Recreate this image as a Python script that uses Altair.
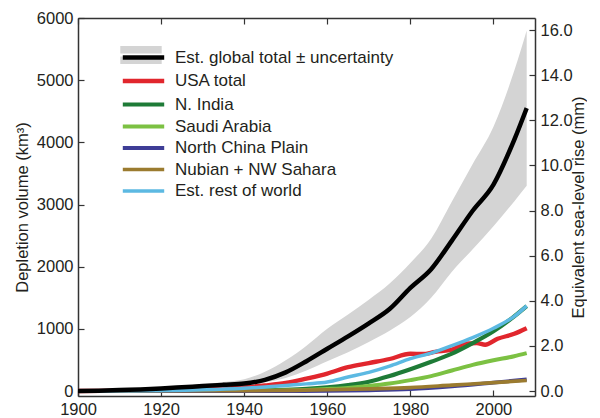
import altair as alt
import pandas as pd

FONT = "Liberation Sans"

series_names = [
    "Est. global total ± uncertainty",
    "USA total",
    "N. India",
    "Saudi Arabia",
    "North China Plain",
    "Nubian + NW Sahara",
    "Est. rest of world",
]
series_colors = ["#000000", "#e1262d", "#1e7b37", "#7cc143", "#3e3d96", "#9b7b2f", "#5cb9e2"]
series_widths = [4.5, 3.5, 3.5, 3.5, 3.0, 3.0, 3.5]

# Estimated global total and uncertainty band (km3)
global_years = [1900, 1905, 1910, 1915, 1920, 1925, 1930, 1935, 1940, 1945, 1950, 1955,
                1960, 1965, 1970, 1975, 1980, 1985, 1990, 1995, 2000, 2005, 2008]
global_total = [0, 5, 15, 25, 40, 60, 80, 100, 120, 180, 300, 480,
                680, 880, 1090, 1320, 1660, 1960, 2420, 2900, 3320, 4040, 4550]
global_upper = [10, 15, 25, 40, 60, 85, 110, 145, 190, 310, 495, 730,
                1000, 1230, 1470, 1730, 2060, 2450, 3050, 3650, 4250, 5150, 5800]
global_lower = [0, 0, 5, 12, 22, 35, 50, 65, 90, 140, 210, 330,
                480, 625, 790, 970, 1190, 1500, 1920, 2280, 2650, 3050, 3300]

usa_years = [1900, 1910, 1920, 1930, 1940, 1945, 1950, 1955, 1960, 1965, 1970, 1975,
             1980, 1983, 1986, 1990, 1993, 1996, 1998, 2001, 2005, 2008]
usa_total = [0, 5, 12, 25, 60, 90, 130, 200, 280, 385, 450, 515,
             600, 595, 630, 665, 760, 770, 745, 840, 920, 1010]

india_years = [1900, 1910, 1920, 1930, 1940, 1945, 1950, 1955, 1960, 1965, 1970, 1975,
               1980, 1985, 1990, 1995, 2000, 2005, 2008]
india_total = [0, 0, 1, 2, 5, 10, 20, 35, 60, 97, 150, 240,
               350, 470, 600, 770, 960, 1200, 1365]

saudi_years = [1900, 1920, 1940, 1950, 1955, 1960, 1965, 1970, 1975, 1980, 1985,
               1990, 1995, 2000, 2005, 2008]
saudi_total = [0, 0, 3, 10, 18, 32, 50, 80, 120, 175, 240,
               330, 420, 495, 560, 610]

china_years = [1900, 1950, 1960, 1970, 1980, 1990, 2000, 2008]
china_total = [0, 0, 3, 12, 30, 75, 135, 185]

nubian_years = [1900, 1940, 1950, 1960, 1970, 1980, 1990, 2000, 2008]
nubian_total = [0, 5, 10, 20, 35, 55, 95, 135, 170]

row_years = [1900, 1910, 1920, 1930, 1940, 1945, 1950, 1955, 1960, 1965, 1970, 1975,
             1980, 1985, 1990, 1995, 2000, 2005, 2008]
row_total = [0, 3, 8, 20, 45, 65, 90, 115, 145, 225, 300, 400,
             520, 610, 730, 860, 1010, 1200, 1370]

KM3_PER_MM = 362.8

rows = []
for name, yrs, vals in [
    (series_names[1], usa_years, usa_total),
    (series_names[2], india_years, india_total),
    (series_names[3], saudi_years, saudi_total),
    (series_names[4], china_years, china_total),
    (series_names[5], nubian_years, nubian_total),
    (series_names[6], row_years, row_total),
    (series_names[0], global_years, global_total),
]:
    for yr, v in zip(yrs, vals):
        rows.append({"series": name, "year": yr, "volume": v})
lines_df = pd.DataFrame(rows)

band_df = pd.DataFrame({
    "year": global_years,
    "lower": global_lower,
    "upper": global_upper,
    "band": series_names[0],
})

INK = "#231f20"
axis_style = dict(
    labelFont=FONT, labelFontSize=16.5, labelColor=INK,
    titleFont=FONT, titleFontSize=16.5, titleFontWeight="normal", titleColor=INK,
    domainColor="#333333", domainWidth=1.5,
    tickColor="#333333", tickWidth=1.2,
    tickSize=alt.ExprRef(expr="-6"), labelPadding=11,
    grid=False,
)

x_scale = alt.Scale(domain=[1900, 2010], nice=False, zero=False)
y_domain = [-80, 6000]
y_scale = alt.Scale(domain=y_domain, nice=False, zero=False)
y2_scale = alt.Scale(domain=[y_domain[0] / KM3_PER_MM, y_domain[1] / KM3_PER_MM], nice=False, zero=False)

LEG_X, LEG_Y = 54, 28

band = alt.Chart(band_df).mark_area(opacity=1, interpolate="monotone").encode(
    x=alt.X("year:Q", scale=x_scale,
            axis=alt.Axis(orient="bottom", title=None, values=[1900, 1920, 1940, 1960, 1980, 2000],
                          format="d", labelFlush=False, **axis_style)),
    y=alt.Y("lower:Q", scale=y_scale, axis=None),
    y2="upper:Q",
    fill=alt.Fill("band:N", scale=alt.Scale(domain=[series_names[0]], range=["#d4d4d4"]),
                  legend=alt.Legend(title=None, orient="none", legendX=LEG_X, legendY=LEG_Y,
                                    symbolType="M-2.3,-1H2.3V-0.18H-2.3Z M-2.3,0.18H2.3V1H-2.3Z",
                                    symbolSize=324, symbolStrokeWidth=0, labelExpr="''",
                                    labelFontSize=17, labelOffset=20, rowPadding=2.5, padding=0)),
)

lines = alt.Chart(lines_df).mark_line(interpolate="monotone").encode(
    x=alt.X("year:Q", scale=x_scale, axis=None),
    y=alt.Y("volume:Q", scale=y_scale,
            axis=alt.Axis(orient="left", title="Depletion volume (km³)",
                          values=[0, 1000, 2000, 3000, 4000, 5000, 6000], format="d",
                          titlePadding=6, **axis_style)),
    color=alt.Color("series:N", scale=alt.Scale(domain=series_names, range=series_colors),
                    legend=alt.Legend(title=None, orient="none", legendX=LEG_X, legendY=LEG_Y,
                                      symbolType="M-2.3,0H2.3", symbolSize=324, symbolStrokeWidth=4,
                                      labelFont=FONT, labelFontSize=17, labelColor=INK,
                                      labelOffset=20, rowPadding=2.5, padding=0, labelLimit=400)),
    strokeWidth=alt.StrokeWidth("series:N", scale=alt.Scale(domain=series_names, range=series_widths),
                                legend=None),
    detail="series:N",
)

right = alt.Chart(band_df).transform_calculate(
    mm="datum.upper / 362.8"
).mark_line(opacity=0).encode(
    x=alt.X("year:Q", scale=x_scale,
            axis=alt.Axis(orient="top", title=None, labels=False,
                          values=[1900, 1920, 1940, 1960, 1980, 2000], **axis_style)),
    y=alt.Y("mm:Q", scale=y2_scale,
            axis=alt.Axis(orient="right", title="Equivalent sea-level rise (mm)",
                          values=[0, 2, 4, 6, 8, 10, 12, 14, 16], format=".1f",
                          titleAngle=270, titlePadding=14, **axis_style)),
)

chart = alt.layer(band, lines, right).resolve_scale(
    y="independent"
).resolve_axis(
    x="independent", y="independent"
).properties(
    width=457, height=378,
    padding={"left": 6, "top": 2, "right": 0, "bottom": 2},
).configure_view(stroke=None).configure(font=FONT)

chart.save("out.html", embed_options={"renderer": "svg", "actions": False})
